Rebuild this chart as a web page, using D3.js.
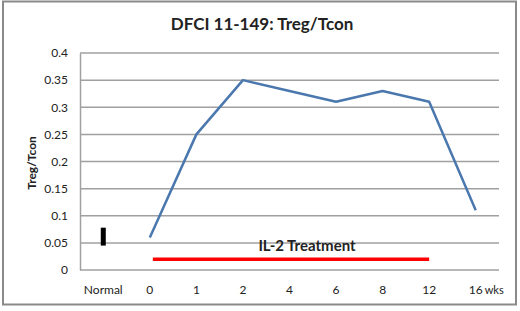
<!DOCTYPE html>
<html lang="en">
<head>
    <meta charset="UTF-8">
    <title>DFCI 11-149: Treg/Tcon</title>
    <script src="https://cdnjs.cloudflare.com/ajax/libs/d3/7.8.5/d3.min.js"></script>
    <style>
        body { margin: 0; background: white; }
        svg text { font-family: Lato, "Open Sans", sans-serif; fill: #222; }
    </style>
</head>
<body>
    <svg id="chart"></svg>
    <script>
        // Data
        const categories = ["Normal", "0", "1", "2", "4", "6", "8", "12", "16"];
        const weeks = ["0", "1", "2", "4", "6", "8", "12", "16"];
        const ratio = [0.06, 0.25, 0.35, 0.33, 0.31, 0.33, 0.31, 0.11];
        const normalRange = [0.045, 0.078];
        const treatment = { from: "0", to: "12", level: 0.02, label: "IL-2 Treatment" };
        const yTicks = [0, 0.05, 0.1, 0.15, 0.2, 0.25, 0.3, 0.35, 0.4];

        const width = 520, height = 311;
        const margin = { top: 53, right: 21, bottom: 41, left: 80 };

        const svg = d3.select("#chart").attr("width", width).attr("height", height);

        // Outer frame
        svg.append("rect")
            .attr("x", 3).attr("y", 1.5)
            .attr("width", 513).attr("height", 303)
            .attr("fill", "white").attr("stroke", "#8a8a8a").attr("stroke-width", 2);

        const x = d3.scaleBand()
            .domain(categories)
            .range([margin.left, width - margin.right]);

        const y = d3.scaleLinear()
            .domain([0, 0.4])
            .range([height - margin.bottom, margin.top]);

        // Gridlines
        svg.append("g")
            .selectAll("line")
            .data(yTicks)
            .enter().append("line")
            .attr("x1", margin.left).attr("x2", width - margin.right)
            .attr("y1", d => y(d)).attr("y2", d => y(d))
            .attr("stroke", "#a0a0a0").attr("stroke-width", 1.5);

        // Y axis
        const yAxis = svg.append("g")
            .attr("transform", `translate(${margin.left},0)`)
            .call(d3.axisLeft(y).tickValues(yTicks).tickSize(0).tickPadding(12).tickFormat(d => d3.format("")(+d.toFixed(2))));
        yAxis.select(".domain").attr("stroke", "#a0a0a0").attr("stroke-width", 1.5);
        yAxis.selectAll("text").style("font-size", "12px").attr("fill", "#222");

        // X axis
        const xAxis = svg.append("g")
            .attr("transform", `translate(0,${height - margin.bottom})`)
            .call(d3.axisBottom(x).tickSize(0).tickPadding(15));
        xAxis.select(".domain").remove();
        xAxis.selectAll("text").style("font-size", "12px").attr("fill", "#222");

        svg.append("text")
            .attr("x", x("16") + x.bandwidth() / 2 + 9)
            .attr("y", height - margin.bottom + 24)
            .style("font-size", "11px")
            .text("wks");

        // Normal range bar
        svg.append("rect")
            .attr("x", x("Normal") + x.bandwidth() / 2 - 2.5)
            .attr("y", y(normalRange[1]))
            .attr("width", 5)
            .attr("height", y(normalRange[0]) - y(normalRange[1]))
            .attr("fill", "black");

        // Treatment bar
        svg.append("line")
            .attr("x1", x(treatment.from) + x.bandwidth() / 2 + 3)
            .attr("x2", x(treatment.to) + x.bandwidth() / 2)
            .attr("y1", y(treatment.level)).attr("y2", y(treatment.level))
            .attr("stroke", "#ff0000").attr("stroke-width", 3.5);

        svg.append("text")
            .attr("x", 307)
            .attr("y", y(treatment.level) - 8)
            .attr("text-anchor", "middle")
            .style("font-size", "15px").style("font-weight", "bold")
            .text(treatment.label);

        // Series line
        const line = d3.line()
            .x((d, i) => x(weeks[i]) + x.bandwidth() / 2)
            .y(d => y(d));

        svg.append("path")
            .datum(ratio)
            .attr("d", line)
            .attr("fill", "none")
            .attr("stroke", "#4a78ae")
            .attr("stroke-width", 2.5)
            .attr("stroke-linejoin", "round");

        // Title
        svg.append("text")
            .attr("x", 262).attr("y", 30)
            .attr("text-anchor", "middle")
            .style("font-size", "17px").style("font-weight", "bold")
            .text("DFCI 11-149: Treg/Tcon");

        // Y label
        svg.append("text")
            .attr("transform", "translate(36,163) rotate(-90)")
            .attr("text-anchor", "middle")
            .style("font-size", "12px").style("font-weight", "bold")
            .text("Treg/Tcon");
    </script>
</body>
</html>
